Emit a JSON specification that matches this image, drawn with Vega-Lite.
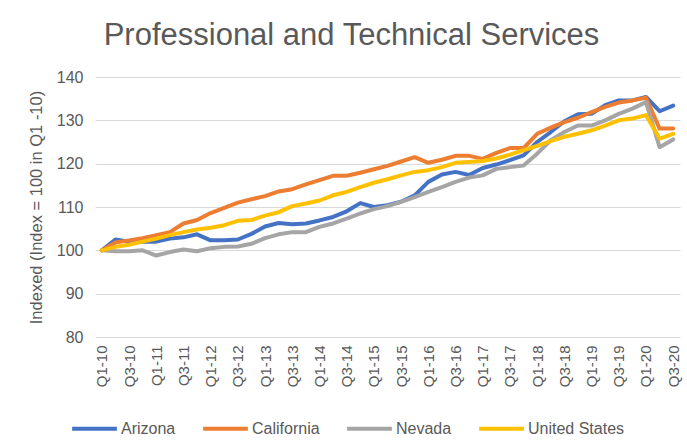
{
  "$schema": "https://vega.github.io/schema/vega-lite/v6.json",
  "width": 585,
  "height": 260,
  "autosize": {"type": "none"},
  "padding": {"left": 95, "top": 77, "right": 7, "bottom": 110},
  "background": "white",
  "title": {
    "text": "Professional and Technical Services",
    "font": "Liberation Sans",
    "fontSize": 31,
    "fontWeight": "normal",
    "color": "#595959",
    "anchor": "middle",
    "frame": "group",
    "dx": -36,
    "offset": 17
  },
  "data": {
    "values": [
      {"q": "Q1-10", "Arizona": 100, "California": 100, "Nevada": 100, "United States": 100},
      {"q": "Q2-10", "Arizona": 102.5, "California": 101.8, "Nevada": 99.8, "United States": 100.8},
      {"q": "Q3-10", "Arizona": 102, "California": 102.3, "Nevada": 99.8, "United States": 101.3},
      {"q": "Q4-10", "Arizona": 102, "California": 102.8, "Nevada": 100, "United States": 102},
      {"q": "Q1-11", "Arizona": 102, "California": 103.5, "Nevada": 98.8, "United States": 102.7},
      {"q": "Q2-11", "Arizona": 102.7, "California": 104.2, "Nevada": 99.6, "United States": 103.5},
      {"q": "Q3-11", "Arizona": 103, "California": 106.2, "Nevada": 100.2, "United States": 104.2},
      {"q": "Q4-11", "Arizona": 103.7, "California": 107, "Nevada": 99.8, "United States": 104.8},
      {"q": "Q1-12", "Arizona": 102.3, "California": 108.6, "Nevada": 100.5, "United States": 105.2},
      {"q": "Q2-12", "Arizona": 102.3, "California": 109.8, "Nevada": 100.8, "United States": 105.8},
      {"q": "Q3-12", "Arizona": 102.5, "California": 111, "Nevada": 100.9, "United States": 106.8},
      {"q": "Q4-12", "Arizona": 103.8, "California": 111.8, "Nevada": 101.5, "United States": 107},
      {"q": "Q1-13", "Arizona": 105.5, "California": 112.5, "Nevada": 102.8, "United States": 108},
      {"q": "Q2-13", "Arizona": 106.3, "California": 113.6, "Nevada": 103.7, "United States": 108.8},
      {"q": "Q3-13", "Arizona": 106, "California": 114.1, "Nevada": 104.2, "United States": 110.2},
      {"q": "Q4-13", "Arizona": 106.2, "California": 115.2, "Nevada": 104.2, "United States": 110.8},
      {"q": "Q1-14", "Arizona": 106.9, "California": 116.2, "Nevada": 105.4, "United States": 111.5},
      {"q": "Q2-14", "Arizona": 107.7, "California": 117.2, "Nevada": 106.2, "United States": 112.7},
      {"q": "Q3-14", "Arizona": 109, "California": 117.2, "Nevada": 107.3, "United States": 113.5},
      {"q": "Q4-14", "Arizona": 110.9, "California": 117.9, "Nevada": 108.5, "United States": 114.6},
      {"q": "Q1-15", "Arizona": 110, "California": 118.7, "Nevada": 109.5, "United States": 115.6},
      {"q": "Q2-15", "Arizona": 110.4, "California": 119.5, "Nevada": 110.2, "United States": 116.4},
      {"q": "Q3-15", "Arizona": 111.2, "California": 120.5, "Nevada": 111.2, "United States": 117.3},
      {"q": "Q4-15", "Arizona": 112.7, "California": 121.5, "Nevada": 112.3, "United States": 118.1},
      {"q": "Q1-16", "Arizona": 115.8, "California": 120.2, "Nevada": 113.5, "United States": 118.5},
      {"q": "Q2-16", "Arizona": 117.5, "California": 120.9, "Nevada": 114.6, "United States": 119.2},
      {"q": "Q3-16", "Arizona": 118.1, "California": 121.8, "Nevada": 115.8, "United States": 120.2},
      {"q": "Q4-16", "Arizona": 117.4, "California": 121.8, "Nevada": 116.8, "United States": 120.4},
      {"q": "Q1-17", "Arizona": 119, "California": 121.1, "Nevada": 117.3, "United States": 120.6},
      {"q": "Q2-17", "Arizona": 119.8, "California": 122.5, "Nevada": 118.8, "United States": 121.2},
      {"q": "Q3-17", "Arizona": 120.8, "California": 123.6, "Nevada": 119.2, "United States": 122.1},
      {"q": "Q4-17", "Arizona": 121.9, "California": 123.6, "Nevada": 119.6, "United States": 123.1},
      {"q": "Q1-18", "Arizona": 125, "California": 126.9, "Nevada": 122.3, "United States": 124.1},
      {"q": "Q2-18", "Arizona": 127.3, "California": 128.3, "Nevada": 125.4, "United States": 125.2},
      {"q": "Q3-18", "Arizona": 129.8, "California": 129.6, "Nevada": 127.3, "United States": 126.2},
      {"q": "Q4-18", "Arizona": 131.4, "California": 130.6, "Nevada": 128.8, "United States": 126.9},
      {"q": "Q1-19", "Arizona": 131.5, "California": 131.9, "Nevada": 128.8, "United States": 127.7},
      {"q": "Q2-19", "Arizona": 133.5, "California": 133.1, "Nevada": 130, "United States": 128.8},
      {"q": "Q3-19", "Arizona": 134.6, "California": 134.1, "Nevada": 131.5, "United States": 130},
      {"q": "Q4-19", "Arizona": 134.6, "California": 134.6, "Nevada": 132.7, "United States": 130.4},
      {"q": "Q1-20", "Arizona": 135.4, "California": 135.2, "Nevada": 134.2, "United States": 131.2},
      {"q": "Q2-20", "Arizona": 132.1, "California": 128.1, "Nevada": 123.8, "United States": 125.8},
      {"q": "Q3-20", "Arizona": 133.4, "California": 128.1, "Nevada": 125.6, "United States": 126.9}
    ]
  },
  "transform": [
    {"fold": ["Arizona", "California", "Nevada", "United States"], "as": ["series", "value"]}
  ],
  "mark": {"type": "line", "strokeWidth": 4, "strokeJoin": "round", "strokeCap": "round"},
  "encoding": {
    "x": {
      "field": "q",
      "type": "ordinal",
      "sort": null,
      "scale": {"type": "point", "padding": 0.5},
      "axis": {
        "values": ["Q1-10","Q3-10","Q1-11","Q3-11","Q1-12","Q3-12","Q1-13","Q3-13","Q1-14","Q3-14","Q1-15","Q3-15","Q1-16","Q3-16","Q1-17","Q3-17","Q1-18","Q3-18","Q1-19","Q3-19","Q1-20","Q3-20"],
        "title": null,
        "labelAngle": -90,
        "labelFont": "Liberation Sans",
        "labelFontSize": 15,
        "labelColor": "#595959",
        "labelPadding": 8,
        "ticks": false,
        "domain": false,
        "grid": false
      }
    },
    "y": {
      "field": "value",
      "type": "quantitative",
      "scale": {"domain": [80, 140], "nice": false, "zero": false},
      "axis": {
        "values": [80, 90, 100, 110, 120, 130, 140],
        "title": "Indexed (Index = 100 in Q1 -10)",
        "titleFont": "Liberation Sans",
        "titleFontSize": 16.5,
        "titleFontWeight": "normal",
        "titleColor": "#595959",
        "titlePadding": 12,
        "labelFont": "Liberation Sans",
        "labelFontSize": 16,
        "labelColor": "#595959",
        "labelPadding": 12,
        "grid": true,
        "gridColor": "#d9d9d9",
        "gridWidth": 1.2,
        "domain": false,
        "ticks": false
      }
    },
    "color": {
      "field": "series",
      "type": "nominal",
      "scale": {
        "domain": ["Arizona", "California", "Nevada", "United States"],
        "range": ["#4472C4", "#ED7D31", "#A5A5A5", "#FFC000"]
      },
      "legend": {
        "orient": "none",
        "legendX": -25,
        "legendY": 327,
        "direction": "horizontal",
        "columns": 4,
        "title": null,
        "symbolType": "stroke",
        "symbolSize": 2000,
        "symbolStrokeWidth": 4,
        "labelFont": "Liberation Sans",
        "labelFontSize": 16,
        "labelColor": "#595959",
        "labelOffset": 2,
        "columnPadding": 19
      }
    }
  },
  "config": {"view": {"stroke": null}}
}
